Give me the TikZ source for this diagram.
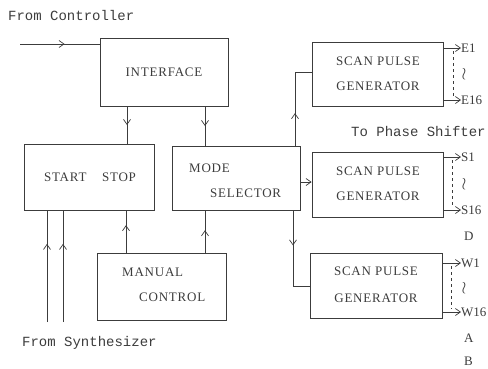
\documentclass[tikz,border=0pt]{standalone}
\usepackage{fontspec}
\setmainfont{Liberation Serif}
\setmonofont{Liberation Mono}
\newfontfamily\boxfont[LetterSpace=6]{Liberation Serif}
\usetikzlibrary{arrows.meta,decorations.markings,calc}
\definecolor{ink}{HTML}{3C3C3C}
\begin{document}
\begin{tikzpicture}[x=1pt,y=-1pt,
  box/.style={draw=ink,line width=0.8pt,inner sep=0pt,text=ink,font=\boxfont\fontsize{13}{15}\selectfont},
  lbl/.style={text=ink,inner sep=0pt,font=\boxfont\fontsize{13}{15}\selectfont},
  mono/.style={text=ink,inner sep=0pt,anchor=west,font=\ttfamily\fontsize{14}{16}\selectfont},
  outl/.style={text=ink,inner sep=0pt,anchor=west,font=\fontsize{13}{15}\selectfont},
  wig/.style={text=ink,inner sep=0pt,font=\fontsize{17}{19}\selectfont},
  wire/.style={draw=ink,line width=0.7pt},
  midarr/.style={wire,postaction={decorate},decoration={markings,mark=at position #1 with {\arrow[ink,line width=0.7pt]{Straight Barb[length=5pt,width=7pt]}}}},
  endarr/.style={wire,-{Straight Barb[length=5pt,width=7pt]}},
  dsh/.style={draw=ink,line width=0.6pt,dashed,dash pattern=on 3pt off 3pt}
]
\useasboundingbox (0,0) rectangle (488,368);

% boxes
\node[box,minimum width=128pt,minimum height=68pt] (iface) at (164,72) {INTERFACE};
\node[box,minimum width=130pt,minimum height=66pt] (ss) at (89,177) {};
\node[box,minimum width=128pt,minimum height=64pt] (mode) at (236,178) {};
\node[box,minimum width=129pt,minimum height=67pt] (man) at (161.5,286.5) {};
\node[box,minimum width=131pt,minimum height=64pt] (sp1) at (377.5,74) {};
\node[box,minimum width=131pt,minimum height=65pt] (sp2) at (377.5,184.5) {};
\node[box,minimum width=132pt,minimum height=65pt] (sp3) at (376,285.5) {};

% box texts
\node[lbl] (tss) at (90,177) {START\hspace{1.2em}STOP};
\node[lbl,anchor=west] (tmode) at (189,168) {MODE};
\node[lbl,anchor=west] (tsel) at (210,193) {SELECTOR};
\node[lbl,anchor=west] (tman) at (122,272) {MANUAL};
\node[lbl,anchor=west] (tcon) at (139,297) {CONTROL};
\node[lbl] (s1a) at (378,61) {SCAN PULSE};
\node[lbl] (s1b) at (378,86) {GENERATOR};
\node[lbl] (s2a) at (378,171) {SCAN PULSE};
\node[lbl] (s2b) at (378,196) {GENERATOR};
\node[lbl] (s3a) at (376,271) {SCAN PULSE};
\node[lbl] (s3b) at (376,298) {GENERATOR};

% outer labels
\node[mono] (fc) at (8,15) {From Controller};
\node[mono] (fs) at (22,343) {From Synthesizer};
\node[mono] (ps) at (351,131) {To Phase Shifter};

% coordinates
\coordinate (cin) at (20,44);
\coordinate (x127) at (127,0);
\coordinate (x205) at (205,0);
\coordinate (x126) at (126,0);
\coordinate (x47) at (47,0);
\coordinate (x63) at (63,0);
\coordinate (syn1) at (47,322);
\coordinate (syn2) at (63,322);
\coordinate (x295) at (295,0);
\coordinate (x293) at (293,0);
\coordinate (y72) at (0,72);
\coordinate (y182) at (0,182);
\coordinate (y286) at (0,286);

% connectors
\draw[midarr=0.56] (cin) -- (cin -| iface.west);
\draw[midarr=0.5] (iface.south -| x127) -- (ss.north -| x127);
\draw[midarr=0.5] (iface.south -| x205) -- (mode.north -| x205);
\draw[midarr=0.7] (syn1) -- (ss.south -| x47);
\draw[midarr=0.7] (syn2) -- (ss.south -| x63);
\draw[midarr=0.65] (man.north -| x126) -- (ss.south -| x126);
\draw[midarr=0.53] (man.north -| x205) -- (mode.south -| x205);
\draw[midarr=0.36] (mode.north -| x295) -- (x295 |- y72) -- (sp1.west |- y72);
\draw[endarr] (mode.east |- y182) -- (sp2.west |- y182);
\draw[midarr=0.38] (mode.south -| x293) -- (x293 |- y286) -- (sp3.west |- y286);

% outputs
\node[outl] (e1) at (461,48) {E1};
\node[outl] (e16) at (461,100) {E16};
\node[outl] (s1) at (461,157) {S1};
\node[outl] (s16) at (461,210) {S16};
\node[outl] (w1) at (461,263) {W1};
\node[outl] (w16) at (461,312) {W16};
\node[outl] (d) at (464,236) {D};
\node[outl] (a) at (464,338) {A};
\node[outl] (b) at (464,361) {B};
\node[wig] (t1) at (464,74) {$\wr$};
\node[wig] (t2) at (464,184) {$\wr$};
\node[wig] (t3) at (464,288) {$\wr$};

\draw[endarr] (sp1.east |- e1.west) -- (e1.west);
\draw[endarr] (sp1.east |- e16.west) -- (e16.west);
\draw[endarr] (sp2.east |- s1.west) -- (s1.west);
\draw[endarr] (sp2.east |- s16.west) -- (s16.west);
\draw[endarr] (sp3.east |- w1.west) -- (w1.west);
\draw[endarr] (sp3.east |- w16.west) -- (w16.west);
\draw[dsh] (453,51) -- (453,97);
\draw[dsh] (452,160) -- (452,207);
\draw[dsh] (451,266) -- (451,309);
\end{tikzpicture}
\end{document}
